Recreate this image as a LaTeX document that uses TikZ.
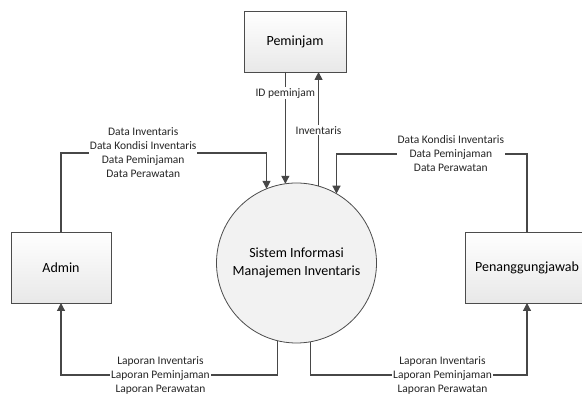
\documentclass[tikz,border=0pt]{standalone}
\usepackage{fontspec}
\setmainfont{Carlito}
\usetikzlibrary{arrows.meta,calc,positioning}

\begin{document}
\begin{tikzpicture}[x=1pt,y=-1pt,
  ent/.style={draw=black!70,line width=0.8pt,top color=white,bottom color=black!9,inner sep=0pt,outer sep=0pt,font=\fontsize{14}{17.5}\selectfont},
  proc/.style={circle,draw=black!70,line width=0.8pt,fill=black!5,minimum size=160pt,inner sep=0pt,outer sep=0pt,align=center,font=\fontsize{14}{17.5}\selectfont},
  flow/.style={draw=black!72,line width=1.2pt,-{Triangle[length=8pt,width=8pt]}},
  lbl/.style={fill=white,inner sep=1pt,align=center,text=black!85,font=\fontsize{11.5}{14}\selectfont}]
\useasboundingbox (0,0) rectangle (582,395);

% entities and process
\node[ent,minimum width=102pt,minimum height=61pt] (pem) at (295,41.5) {Peminjam};
\node[ent,minimum width=100pt,minimum height=71pt] (adm) at (61,267.5) {Admin};
\node[ent,minimum width=124pt,minimum height=71pt] (pj) at (527,267.5) {Penanggungjawab};
\node[proc] (sys) at (296.5,263) {Sistem Informasi\\Manajemen Inventaris};

% Peminjam
\draw[flow] (sys.98 |- pem.south) -- node[lbl,pos=0.19] {ID peminjam} (sys.98);
\draw[flow] (sys.74) -- node[lbl,pos=0.49] {Inventaris} (sys.74 |- pem.south);

% Admin
\draw[flow] (adm.north) -- (adm.north |- 0,153) -- node[lbl,pos=0.4] {Data Inventaris\\Data Kondisi Inventaris\\Data Peminjaman\\Data Perawatan} (sys.112 |- 0,153) -- (sys.112);
\draw[flow] (sys.256) -- (sys.256 |- 0,375) -- node[lbl,pos=0.54] {Laporan Inventaris\\Laporan Peminjaman\\Laporan Perawatan} (adm.south |- 0,375) -- (adm.south);

% Penanggungjawab
\draw[flow] (pj.north) -- (pj.north |- 0,154) -- node[lbl,pos=0.4] {Data Kondisi Inventaris\\Data Peminjaman\\Data Perawatan} (sys.60 |- 0,154) -- (sys.60);
\draw[flow] (sys.280) -- (sys.280 |- 0,375) -- node[lbl,pos=0.61] {Laporan Inventaris\\Laporan Peminjaman\\Laporan Perawatan} (pj.south |- 0,375) -- (pj.south);
\end{tikzpicture}
\end{document}
